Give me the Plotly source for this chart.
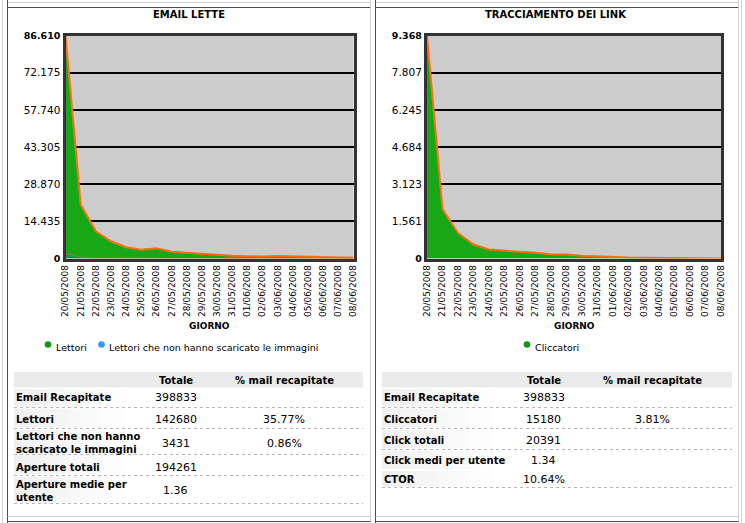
import plotly.graph_objects as go

# ---------------- DATA ----------------
days = ["20/05/2008", "21/05/2008", "22/05/2008", "23/05/2008", "24/05/2008",
        "25/05/2008", "26/05/2008", "27/05/2008", "28/05/2008", "29/05/2008",
        "30/05/2008", "31/05/2008", "01/06/2008", "02/06/2008", "03/06/2008",
        "04/06/2008", "05/06/2008", "06/06/2008", "07/06/2008", "08/06/2008"]

lettori = [86610, 20900, 10560, 6700, 4370, 3360, 3990, 2590, 2200, 1800,
           1300, 1050, 900, 780, 1000, 880, 760, 520, 400, 300]
lettori_no_img = [2000, 600, 250, 150, 100, 70, 60, 40, 30, 25,
                  20, 15, 12, 10, 10, 8, 6, 5, 4, 3]
cliccatori = [9368, 2077, 1074, 585, 376, 334, 306, 237, 180, 167,
              113, 84, 55, 40, 35, 25, 15, 10, 12, 5]

left_yticks = [0, 14435, 28870, 43305, 57740, 72175, 86610]
left_yticklabels = ["0", "14.435", "28.870", "43.305", "57.740", "72.175", "86.610"]
right_yticks = [0, 1561, 3123, 4684, 6245, 7807, 9368]
right_yticklabels = ["0", "1.561", "3.123", "4.684", "6.245", "7.807", "9.368"]

left_title = "EMAIL LETTE"
right_title = "TRACCIAMENTO DEI LINK"
x_title = "GIORNO"
left_series_names = ["Lettori", "Lettori che non hanno scaricato le immagini"]
right_series_names = ["Cliccatori"]

table_headers = ["Totale", "% mail recapitate"]
left_labels = ["Email Recapitate", "Lettori", "Lettori che non hanno<br>scaricato le immagini",
               "Aperture totali", "Aperture medie per<br>utente"]
left_totals = ["398833", "142680", "3431", "194261", "1.36"]
left_pcts = ["", "35.77%", "0.86%", "", ""]
right_labels = ["Email Recapitate", "Cliccatori", "Click totali", "Click medi per utente", "CTOR"]
right_totals = ["398833", "15180", "20391", "1.34", "10.64%"]
right_pcts = ["", "3.81%", "", "", ""]

# ---------------- LAYOUT HELPERS ----------------
W, H = 745, 523
FONT = "DejaVu Sans"


def X(p):
    return p / W


def Y(p):
    return 1 - p / H


GREEN = "#17a717"
ORANGE = "#ff6c14"

fig = go.Figure()

fig.add_trace(go.Scatter(x=days, y=lettori, mode="lines", fill="tozeroy",
                         fillcolor=GREEN, line=dict(color=ORANGE, width=2),
                         name=left_series_names[0], xaxis="x", yaxis="y"))
fig.add_trace(go.Scatter(x=days, y=lettori_no_img, mode="lines", fill="tozeroy",
                         fillcolor="rgba(40,120,140,0.5)",
                         line=dict(color="rgba(220,110,40,0.7)", width=1),
                         name=left_series_names[1], xaxis="x", yaxis="y"))
fig.add_trace(go.Scatter(x=days, y=cliccatori, mode="lines", fill="tozeroy",
                         fillcolor=GREEN, line=dict(color=ORANGE, width=2),
                         name=right_series_names[0], xaxis="x2", yaxis="y2"))


def bold_ends(labels):
    out = list(labels)
    for i in (0, -1):
        out[i] = '<span style="font-size:9.5px;font-weight:bold">' + out[i] + '</span>'
    return out


common_x = dict(type="category", range=[0, len(days) - 1], tickangle=-90,
                showgrid=False, zeroline=False, showline=True, linecolor="#333333",
                linewidth=3, mirror=True, ticks="", automargin=False,
                tickfont=dict(family=FONT, size=9, color="#000"), fixedrange=True)
common_y = dict(showgrid=True, gridcolor="#000000", gridwidth=2, zeroline=False,
                showline=True, linecolor="#333333", linewidth=3, mirror=True, ticks="",
                automargin=False,
                tickfont=dict(family=FONT, size=10.5, color="#000"), fixedrange=True)

plot_top, plot_bot = 35.5, 258.5

fig.update_layout(
    template="none",
    width=W, height=H, autosize=False,
    margin=dict(l=0, r=0, t=0, b=0, pad=0),
    paper_bgcolor="white", plot_bgcolor="#cccccc",
    showlegend=False,
    xaxis=dict(domain=[X(65.5), X(353.5)], anchor="y", **common_x),
    yaxis=dict(domain=[Y(plot_bot), Y(plot_top)], anchor="x", range=[0, left_yticks[-1]],
               tickvals=left_yticks, ticktext=bold_ends(left_yticklabels), **common_y),
    xaxis2=dict(domain=[X(427), X(721)], anchor="y2", **common_x),
    yaxis2=dict(domain=[Y(plot_bot), Y(plot_top)], anchor="x2", range=[0, right_yticks[-1]],
                tickvals=right_yticks, ticktext=bold_ends(right_yticklabels), **common_y),
)

shapes = []
annotations = []


def line(x0, y0, x1, y1, color, width=1, dash="solid"):
    shapes.append(dict(type="line", xref="paper", yref="paper",
                       x0=X(x0), y0=Y(y0), x1=X(x1), y1=Y(y1),
                       line=dict(color=color, width=width, dash=dash), layer="below"))


def rect(x0, y0, x1, y1, color):
    shapes.append(dict(type="rect", xref="paper", yref="paper",
                       x0=X(x0), y0=Y(y0), x1=X(x1), y1=Y(y1),
                       fillcolor=color, line=dict(width=0), layer="below"))


def text(x, y, s, size=10, bold=False, xanchor="center", color="#000"):
    annotations.append(dict(xref="paper", yref="paper", x=X(x), y=Y(y),
                            text=("<b>%s</b>" % s) if bold else s, showarrow=False,
                            xanchor=xanchor, yanchor="middle",
                            font=dict(family=FONT, size=size, color=color), align="left"))


DARK = "#4a4a4a"
LIGHT = "#d0d0d0"

# page frame lines
line(2.5, 0, 2.5, H, LIGHT)
line(741.5, 0, 741.5, H, LIGHT)
for (a, b) in [(7.5, 370.5), (375.5, 738.5)]:
    line(a, 2.5, b, 2.5, LIGHT)          # bottom of boxes above
    line(a, 7.5, b, 7.5, DARK)           # top of panel
    line(a, 0, a, H, DARK)               # left of panel
    line(b, 0, b, H, LIGHT)              # right of panel
    line(a, 516.5, b, 516.5, LIGHT)      # bottom of panel
    line(a, 521.5, b, 521.5, DARK)       # top of box below

# titles
text(189, 15, left_title, size=10, bold=True)
text(556, 15, right_title, size=10, bold=True)
text(209.5, 326, x_title, size=9, bold=True)
text(574, 326, x_title, size=9, bold=True)


# legends
def dot(cx, cy, color, r=3.3):
    shapes.append(dict(type="circle", xref="paper", yref="paper",
                       x0=X(cx - r), y0=Y(cy - r), x1=X(cx + r), y1=Y(cy + r),
                       fillcolor=color, line=dict(width=0)))


dot(48, 344.5, "#119911")
text(54, 347, left_series_names[0], size=9.5, xanchor="left")
dot(101.5, 344.5, "#3399ff")
text(107, 347, left_series_names[1], size=9.5, xanchor="left")
dot(527, 344.5, "#119911")
text(533, 347, right_series_names[0], size=9.5, xanchor="left")


# tables
def table(x0, x1, col_tot, col_pct, labels, totals, pcts, row_y, bounds, seps):
    rect(x0, 372, x1, 387.5, "#ebebeb")
    text(col_tot, 380, table_headers[0], size=10, bold=True)
    text(col_pct, 380, table_headers[1], size=10, bold=True)
    for i in range(len(labels)):
        top, bot = bounds[i], bounds[i + 1]
        n = 10
        for k in range(n):
            g = int(241 + (255 - 241) * k / n)
            rect(x0 + k * 11, top + 1, x0 + (k + 1) * 11, bot - 1, "rgb(%d,%d,%d)" % (g, g, g))
        text(x0, row_y[i], labels[i], size=10, bold=True, xanchor="left")
        text(col_tot, row_y[i], totals[i], size=11)
        if pcts[i]:
            text(col_pct, row_y[i], pcts[i], size=11)
    for s in seps:
        line(x0, s, x1, s, "#b8b8b8", 1, "dot")


table(14, 363, 175.5, 284, left_labels, left_totals, left_pcts,
      [397.7, 419.5, 443, 467, 490.5],
      [388, 407.5, 428.5, 454.5, 475.5, 503.5],
      [407.5, 428.5, 454.5, 475.5, 503.5])
table(382, 732, 543.7, 652, right_labels, right_totals, right_pcts,
      [397.7, 419.3, 440, 460.7, 479],
      [388, 407.5, 428.5, 449.5, 470, 487.5],
      [407.5, 428.5, 449.5, 487.5])

fig.update_layout(shapes=shapes, annotations=annotations)

fig.write_html("out.html")
